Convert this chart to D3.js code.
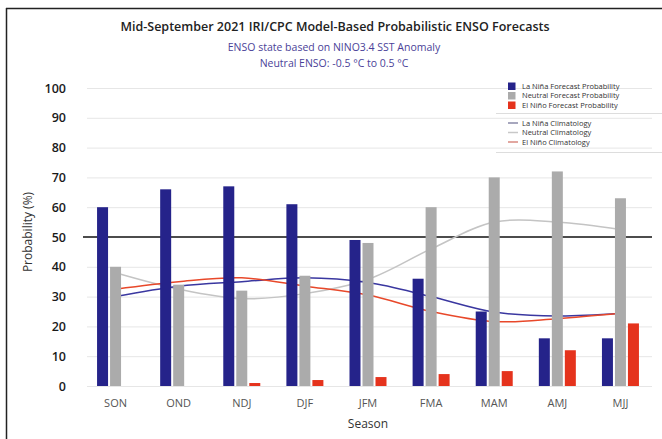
<!DOCTYPE html>
<html><head><meta charset="utf-8">
<script src="https://cdn.jsdelivr.net/npm/d3@7"></script>
<style>body{margin:0;background:#fff}svg{display:block}</style>
</head><body>
<script>
const seasons = ["SON","OND","NDJ","DJF","JFM","FMA","MAM","AMJ","MJJ"];
const laNina = [60,66,67,61,49,36,25,16,16];
const neutral = [40,34,32,37,48,60,70,72,63];
const elNino = [0,0,1,2,3,4,5,12,21];
const laNinaClim = [30,33.5,35,36.3,34.7,30,24.8,23.5,24.4];
const neutralClim = [38,32.5,29.3,31,35.8,46,55,55,52.5];
const elNinoClim = [32.5,35,36.3,33.5,30.5,25,21.6,22.6,24.4];
const yTicks = [0,10,20,30,40,50,60,70,80,90,100];

const W=662,H=439;
const svg=d3.select("body").append("svg").attr("width",W).attr("height",H);
const font="'Open Sans', sans-serif";
const cBlue="#25238a", cGrey="#ababab", cRed="#e5331d";

// frame
svg.append("line").attr("x1",6.5).attr("x2",6.5).attr("y1",8).attr("y2",439).attr("stroke","#222").attr("stroke-width",1.5);
svg.append("line").attr("x1",6).attr("x2",662).attr("y1",8.5).attr("y2",8.5).attr("stroke","#222").attr("stroke-width",1.5);

const x=d3.scaleBand().domain(seasons).range([84,652]);
const y=d3.scaleLinear().domain([0,100]).range([386,88]);
const off=13,bw=11;

// grid
svg.append("g").selectAll("line").data(yTicks.filter(d=>d!==50)).join("line")
 .attr("x1",87).attr("x2",652).attr("y1",d=>y(d)+0.5).attr("y2",d=>y(d)+0.5)
 .attr("stroke","#e6e6e6").attr("stroke-width",1);

// y axis labels
const ya=d3.axisLeft(y).tickValues(yTicks).tickSize(0).tickPadding(0);
const gy=svg.append("g").attr("transform","translate(66,0)").call(ya);
gy.select(".domain").remove();
gy.selectAll("text").attr("font-family",font).attr("font-size",12.5).attr("font-weight",600).attr("fill","#1a1a1a");

// x axis labels
const xa=d3.axisBottom(x).tickSize(0).tickPadding(0);
const gx=svg.append("g").attr("transform","translate(0,399)").call(xa);
gx.select(".domain").remove();
gx.selectAll("text").attr("font-family",font).attr("font-size",11).attr("fill","#555");

// axis titles
svg.append("text").attr("transform","translate(32,232) rotate(-90)").attr("text-anchor","middle")
 .attr("font-family",font).attr("font-size",12).attr("fill","#333").text("Probability (%)");
svg.append("text").attr("x",368).attr("y",428).attr("text-anchor","middle")
 .attr("font-family",font).attr("font-size",12).attr("fill","#333").text("Season");

// titles
svg.append("text").attr("x",335).attr("y",31).attr("text-anchor","middle")
 .attr("font-family",font).attr("font-size",12.5).attr("font-weight",600).attr("fill","#222")
 .text("Mid-September 2021 IRI/CPC Model-Based Probabilistic ENSO Forecasts");
svg.append("text").attr("x",334).attr("y",51).attr("text-anchor","middle")
 .attr("font-family",font).attr("font-size",10.5).attr("fill","#4a3f98")
 .text("ENSO state based on NINO3.4 SST Anomaly");
svg.append("text").attr("x",334).attr("y",67).attr("text-anchor","middle")
 .attr("font-family",font).attr("font-size",10.5).attr("fill","#4a3f98")
 .text("Neutral ENSO: -0.5 °C to 0.5 °C");

// 50 line
svg.append("line").attr("x1",83).attr("x2",652).attr("y1",y(50)).attr("y2",y(50)).attr("stroke","#111").attr("stroke-width",1.5);

// climatology lines
const cx=i=>x(seasons[i])+x.bandwidth()/2;
const line=d3.line().x((d,i)=>cx(i)).y(d=>y(d)).curve(d3.curveCatmullRom.alpha(0.5));
[[neutralClim,"#c4c4c4"],[laNinaClim,"#3a37a0"],[elNinoClim,"#e8482a"]].forEach(([d,c])=>{
 svg.append("path").datum(d).attr("d",line).attr("fill","none").attr("stroke",c).attr("stroke-width",1.5);
});

// bars
const series=[[laNina,cBlue,-off],[neutral,cGrey,0],[elNino,cRed,off]];
series.forEach(([vals,c,o])=>{
 svg.append("g").selectAll("rect").data(vals).join("rect")
  .attr("x",(d,i)=>cx(i)+o-bw/2).attr("width",bw)
  .attr("y",d=>y(d)).attr("height",d=>y(0)-y(d)).attr("fill",c);
});

// legend
const lf=7.5;
const leg=[["La Niña Forecast Probability",cBlue],["Neutral Forecast Probability",cGrey],["El Niño Forecast Probability",cRed]];
leg.forEach((d,i)=>{
 const yy=86+i*9.5;
 svg.append("rect").attr("x",508).attr("y",yy-3.5).attr("width",7.5).attr("height",7.5).attr("fill",d[1]);
 svg.append("text").attr("x",522).attr("y",yy+2.5).attr("font-family",font).attr("font-size",lf).attr("fill","#333").text(d[0]);
});
svg.append("line").attr("x1",496).attr("x2",662).attr("y1",113.5).attr("y2",113.5).attr("stroke","#ddd");
const leg2=[["La Niña Climatology","#8a8aa8"],["Neutral Climatology","#c8c8c8"],["El Niño Climatology","#d98a80"]];
leg2.forEach((d,i)=>{
 const yy=123+i*9.5;
 svg.append("line").attr("x1",508).attr("x2",518).attr("y1",yy).attr("y2",yy).attr("stroke",d[1]).attr("stroke-width",1.5);
 svg.append("text").attr("x",522).attr("y",yy+2.5).attr("font-family",font).attr("font-size",lf).attr("fill","#333").text(d[0]);
});
svg.append("line").attr("x1",496).attr("x2",662).attr("y1",152.5).attr("y2",152.5).attr("stroke","#ddd");
</script>
</body></html>
